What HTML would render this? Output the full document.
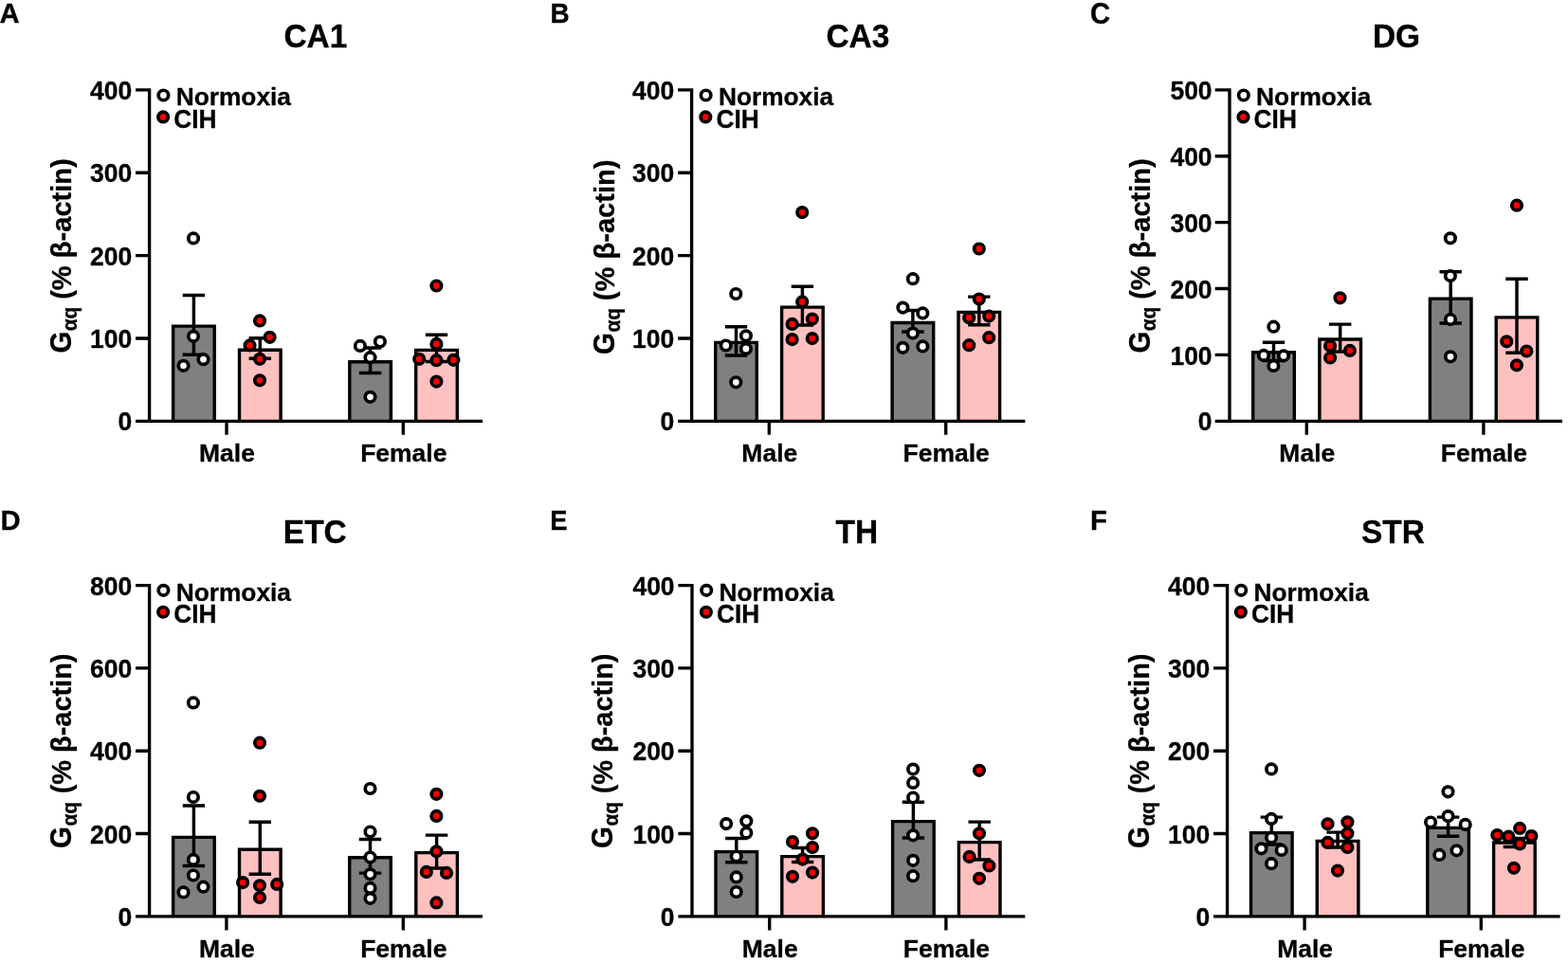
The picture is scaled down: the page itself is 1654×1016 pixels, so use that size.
<!DOCTYPE html>
<html lang="en">
<head>
<meta charset="utf-8">
<title>G&#945;q expression across brain regions</title>
<style>
html,body{margin:0;padding:0;background:#fff;}
body{width:1654px;height:1016px;overflow:hidden;}
svg{display:block;}
text{font-family:"Liberation Sans", Arial, Helvetica, sans-serif;font-weight:bold;fill:#000;stroke:#000;stroke-width:0.3px;stroke-linejoin:round;}
.pl{font-size:29.3px;}
.tt{font-size:33.5px;text-anchor:middle;}
.yt{font-size:26.5px;text-anchor:end;}
.xt{font-size:26.5px;text-anchor:middle;}
.lg{font-size:26.3px;}
.yl{font-size:29.5px;}
.ax{stroke:#000;stroke-width:3.35;fill:none;}
.eb{stroke:#000;stroke-width:3.45;fill:none;}
.bn{fill:#808080;stroke:#000;stroke-width:3.4;}
.bc{fill:#ffc0c0;stroke:#000;stroke-width:3.4;}
.dn{fill:#fff;stroke:#000;stroke-width:3.7;}
.dc{fill:#ff0000;stroke:#000;stroke-width:3.7;}
</style>
</head>
<body>
<svg width="1654" height="1016" viewBox="0 0 1654 1016">
<rect x="0" y="0" width="1654" height="1016" fill="#ffffff"/>

<g id="panel-A">
<text class="pl" transform="translate(-0.5 24) scale(1 1.03)">A</text>
<text class="tt" transform="translate(332.9 50) scale(1 1.03)">CA1</text>
<g transform="translate(74.6 372.6) rotate(-90)"><text class="yl" transform="translate(0 0) scale(1 1.07)">G<tspan x="23.3" y="5.61" font-size="21">&#945;q</tspan></text><text class="yl" transform="translate(56.75 0) scale(1 0.99)" style="font-size:29.1px">(% &#946;-actin)</text></g>
<path class="bn" d="M182.6 443.9V344.1H226.2V443.9"/>
<path class="bc" d="M252.5 443.9V369.3H296.1V443.9"/>
<path class="bn" d="M368.8 443.9V381.7H412.4V443.9"/>
<path class="bc" d="M438.7 443.9V369.4H482.3V443.9"/>
<path class="eb" d="M204.4 311.5V374.3M192.7 311.5H216.1M192.7 374.3H216.1"/>
<path class="eb" d="M274.3 356.8V378.2M262.6 356.8H286M262.6 378.2H286"/>
<path class="eb" d="M390.6 366.9V393.4M378.9 366.9H402.3M378.9 393.4H402.3"/>
<path class="eb" d="M460.5 353.3V381.4M448.8 353.3H472.2M448.8 381.4H472.2"/>
<circle class="dn" cx="204" cy="251.4" r="5.25"/>
<circle class="dn" cx="204" cy="354.8" r="5.25"/>
<circle class="dn" cx="214.5" cy="379.2" r="5.25"/>
<circle class="dn" cx="193.5" cy="385.8" r="5.25"/>
<circle class="dc" cx="274" cy="338.4" r="5.25"/>
<circle class="dc" cx="284.6" cy="355.8" r="5.25"/>
<circle class="dc" cx="263.5" cy="364.4" r="5.25"/>
<circle class="dc" cx="274" cy="378.8" r="5.25"/>
<circle class="dc" cx="274" cy="401.3" r="5.25"/>
<circle class="dn" cx="400.9" cy="360.5" r="5.25"/>
<circle class="dn" cx="379.9" cy="364.9" r="5.25"/>
<circle class="dn" cx="390.5" cy="377.2" r="5.25"/>
<circle class="dn" cx="390.5" cy="418.8" r="5.25"/>
<circle class="dc" cx="460.4" cy="301.5" r="5.25"/>
<circle class="dc" cx="460.4" cy="362.9" r="5.25"/>
<circle class="dc" cx="442.2" cy="378.8" r="5.25"/>
<circle class="dc" cx="460.4" cy="380.2" r="5.25"/>
<circle class="dc" cx="478.4" cy="379.8" r="5.25"/>
<circle class="dc" cx="460.4" cy="402.6" r="5.25"/>
<path class="ax" d="M157.6 93.23V444.3M143 444.3H509M143 356.95H157.6M143 269.6H157.6M143 182.25H157.6M143 94.9H157.6M239 444.3V458.75M425.3 444.3V458.75"/>
<text class="yt" transform="translate(139.2 454.4) scale(1 1.035)">0</text>
<text class="yt" transform="translate(139.2 367.05) scale(1 1.035)">100</text>
<text class="yt" transform="translate(139.2 279.7) scale(1 1.035)">200</text>
<text class="yt" transform="translate(139.2 192.35) scale(1 1.035)">300</text>
<text class="yt" transform="translate(139.2 105) scale(1 1.035)">400</text>
<text class="xt" transform="translate(239.5 487.2) scale(1 0.99)">Male</text>
<text class="xt" transform="translate(425.8 487.2) scale(1 0.99)">Female</text>
<circle class="dn" cx="172.4" cy="100.5" r="5.25"/>
<text class="lg" x="185.7" y="111.4">Normoxia</text>
<circle class="dc" cx="172.1" cy="123.45" r="5.25"/>
<text class="lg" transform="translate(183.2 134.6) scale(1 1.035)">CIH</text>
</g>
<g id="panel-B">
<text class="pl" transform="translate(580.5 24) scale(0.955 1.03)">B</text>
<text class="tt" transform="translate(904.9 50) scale(1 1.03)">CA3</text>
<g transform="translate(647.6 373.9) rotate(-90)"><text class="yl" transform="translate(0 0) scale(1 1.07)">G<tspan x="23.3" y="5.61" font-size="21">&#945;q</tspan></text><text class="yl" transform="translate(56.75 0) scale(1 0.99)" style="font-size:29.1px">(% &#946;-actin)</text></g>
<path class="bn" d="M754.7 443.9V361.4H798.3V443.9"/>
<path class="bc" d="M824.6 443.9V324.1H868.2V443.9"/>
<path class="bn" d="M941.1 443.9V340.5H984.7V443.9"/>
<path class="bc" d="M1011 443.9V329.4H1054.6V443.9"/>
<path class="eb" d="M776.5 344.7V374.9M764.8 344.7H788.2M764.8 374.9H788.2"/>
<path class="eb" d="M846.4 302.3V342.9M834.7 302.3H858.1M834.7 342.9H858.1"/>
<path class="eb" d="M962.9 327.4V349.9M951.2 327.4H974.6M951.2 349.9H974.6"/>
<path class="eb" d="M1032.8 313.1V342.8M1021.1 313.1H1044.5M1021.1 342.8H1044.5"/>
<circle class="dn" cx="776.3" cy="310" r="5.25"/>
<circle class="dn" cx="786.9" cy="354.3" r="5.25"/>
<circle class="dn" cx="765.7" cy="364.5" r="5.25"/>
<circle class="dn" cx="786.9" cy="367.9" r="5.25"/>
<circle class="dn" cx="776.3" cy="403.3" r="5.25"/>
<circle class="dc" cx="846.2" cy="224.1" r="5.25"/>
<circle class="dc" cx="846.2" cy="318.4" r="5.25"/>
<circle class="dc" cx="856.8" cy="336.6" r="5.25"/>
<circle class="dc" cx="835.6" cy="341.9" r="5.25"/>
<circle class="dc" cx="835.6" cy="358.1" r="5.25"/>
<circle class="dc" cx="856.8" cy="357.1" r="5.25"/>
<circle class="dn" cx="962.9" cy="294.2" r="5.25"/>
<circle class="dn" cx="952.4" cy="324.6" r="5.25"/>
<circle class="dn" cx="973.3" cy="330.4" r="5.25"/>
<circle class="dn" cx="962.9" cy="351.6" r="5.25"/>
<circle class="dn" cx="952.4" cy="366.8" r="5.25"/>
<circle class="dn" cx="973.3" cy="365.4" r="5.25"/>
<circle class="dc" cx="1032.8" cy="262.5" r="5.25"/>
<circle class="dc" cx="1032.8" cy="315.5" r="5.25"/>
<circle class="dc" cx="1022.2" cy="335.2" r="5.25"/>
<circle class="dc" cx="1043.2" cy="333.6" r="5.25"/>
<circle class="dc" cx="1043.2" cy="356.2" r="5.25"/>
<circle class="dc" cx="1022.2" cy="364.2" r="5.25"/>
<path class="ax" d="M729.6 93.23V444.3M715 444.3H1081.3M715 356.95H729.6M715 269.6H729.6M715 182.25H729.6M715 94.9H729.6M811.3 444.3V458.75M997.7 444.3V458.75"/>
<text class="yt" transform="translate(711.2 454.4) scale(1 1.035)">0</text>
<text class="yt" transform="translate(711.2 367.05) scale(1 1.035)">100</text>
<text class="yt" transform="translate(711.2 279.7) scale(1 1.035)">200</text>
<text class="yt" transform="translate(711.2 192.35) scale(1 1.035)">300</text>
<text class="yt" transform="translate(711.2 105) scale(1 1.035)">400</text>
<text class="xt" transform="translate(811.8 487.2) scale(1 0.99)">Male</text>
<text class="xt" transform="translate(998.2 487.2) scale(1 0.99)">Female</text>
<circle class="dn" cx="744.6" cy="100.5" r="5.25"/>
<text class="lg" x="757.9" y="111.4">Normoxia</text>
<circle class="dc" cx="744.3" cy="123.45" r="5.25"/>
<text class="lg" transform="translate(755.4 134.6) scale(1 1.035)">CIH</text>
</g>
<g id="panel-C">
<text class="pl" transform="translate(1150 24.5) scale(1 1.085)">C</text>
<text class="tt" transform="translate(1473 50) scale(1 1.03)">DG</text>
<g transform="translate(1212.5 372.6) rotate(-90)"><text class="yl" transform="translate(0 0) scale(1 1.07)">G<tspan x="23.3" y="5.61" font-size="21">&#945;q</tspan></text><text class="yl" transform="translate(56.75 0) scale(1 0.99)" style="font-size:29.1px">(% &#946;-actin)</text></g>
<path class="bn" d="M1321.7 443.9V371.8H1365.3V443.9"/>
<path class="bc" d="M1391.9 443.9V358H1435.5V443.9"/>
<path class="bn" d="M1508.4 443.9V315.1H1552V443.9"/>
<path class="bc" d="M1578.2 443.9V334.9H1621.8V443.9"/>
<path class="eb" d="M1343.5 361.3V380.5M1331.8 361.3H1355.2M1331.8 380.5H1355.2"/>
<path class="eb" d="M1413.7 342.1V370.9M1402 342.1H1425.4M1402 370.9H1425.4"/>
<path class="eb" d="M1530.2 286.7V341M1518.5 286.7H1541.9M1518.5 341H1541.9"/>
<path class="eb" d="M1600 294.3V372.3M1588.3 294.3H1611.7M1588.3 372.3H1611.7"/>
<circle class="dn" cx="1343.4" cy="344.7" r="5.25"/>
<circle class="dn" cx="1333" cy="374.9" r="5.25"/>
<circle class="dn" cx="1354" cy="375.3" r="5.25"/>
<circle class="dn" cx="1343.4" cy="385.9" r="5.25"/>
<circle class="dc" cx="1413.5" cy="314.3" r="5.25"/>
<circle class="dc" cx="1403.1" cy="364.9" r="5.25"/>
<circle class="dc" cx="1423.9" cy="369.9" r="5.25"/>
<circle class="dc" cx="1403.1" cy="377.5" r="5.25"/>
<circle class="dn" cx="1529.9" cy="251.3" r="5.25"/>
<circle class="dn" cx="1529.9" cy="291.1" r="5.25"/>
<circle class="dn" cx="1530" cy="337" r="5.25"/>
<circle class="dn" cx="1530" cy="376.3" r="5.25"/>
<circle class="dc" cx="1600" cy="216.7" r="5.25"/>
<circle class="dc" cx="1589.3" cy="360.3" r="5.25"/>
<circle class="dc" cx="1610.3" cy="370.5" r="5.25"/>
<circle class="dc" cx="1599.9" cy="385.3" r="5.25"/>
<path class="ax" d="M1297 93.23V444.3M1281.7 444.3H1648M1281.7 374.42H1297M1281.7 304.54H1297M1281.7 234.66H1297M1281.7 164.78H1297M1281.7 94.9H1297M1378.3 444.3V458.75M1564.9 444.3V458.75"/>
<text class="yt" transform="translate(1278.6 454.4) scale(1 1.035)">0</text>
<text class="yt" transform="translate(1278.6 384.52) scale(1 1.035)">100</text>
<text class="yt" transform="translate(1278.6 314.64) scale(1 1.035)">200</text>
<text class="yt" transform="translate(1278.6 244.76) scale(1 1.035)">300</text>
<text class="yt" transform="translate(1278.6 174.88) scale(1 1.035)">400</text>
<text class="yt" transform="translate(1278.6 105) scale(1 1.035)">500</text>
<text class="xt" transform="translate(1378.8 487.2) scale(1 0.99)">Male</text>
<text class="xt" transform="translate(1565.4 487.2) scale(1 0.99)">Female</text>
<circle class="dn" cx="1311.8" cy="100.5" r="5.25"/>
<text class="lg" x="1325.1" y="111.4">Normoxia</text>
<circle class="dc" cx="1311.5" cy="123.45" r="5.25"/>
<text class="lg" transform="translate(1322.6 134.6) scale(1 1.035)">CIH</text>
</g>
<g id="panel-D">
<text class="pl" transform="translate(0.6 558.7) scale(1 1.03)">D</text>
<text class="tt" transform="translate(332.3 572.5) scale(1 1.03)">ETC</text>
<g transform="translate(74.6 894.9) rotate(-90)"><text class="yl" transform="translate(0 0) scale(1 1.07)">G<tspan x="23.3" y="5.61" font-size="21">&#945;q</tspan></text><text class="yl" transform="translate(57.65 0) scale(1 0.99)" style="font-size:28.9px">(% &#946;-actin)</text></g>
<path class="bn" d="M182.6 966.4V883.4H226.2V966.4"/>
<path class="bc" d="M252.5 966.4V896.3H296.1V966.4"/>
<path class="bn" d="M368.7 966.4V904.8H412.3V966.4"/>
<path class="bc" d="M438.8 966.4V899.6H482.4V966.4"/>
<path class="eb" d="M204.4 849.9V913.5M192.7 849.9H216.1M192.7 913.5H216.1"/>
<path class="eb" d="M274.3 867.3V922.3M262.6 867.3H286M262.6 922.3H286"/>
<path class="eb" d="M390.5 885.5V921.1M378.8 885.5H402.2M378.8 921.1H402.2"/>
<path class="eb" d="M460.6 881.1V915.9M448.9 881.1H472.3M448.9 915.9H472.3"/>
<circle class="dn" cx="203.9" cy="741.4" r="5.25"/>
<circle class="dn" cx="203.9" cy="841" r="5.25"/>
<circle class="dn" cx="203.9" cy="906.9" r="5.25"/>
<circle class="dn" cx="203.9" cy="923.5" r="5.25"/>
<circle class="dn" cx="214.5" cy="935.7" r="5.25"/>
<circle class="dn" cx="193.5" cy="941.4" r="5.25"/>
<circle class="dc" cx="274" cy="783.7" r="5.25"/>
<circle class="dc" cx="274" cy="839.8" r="5.25"/>
<circle class="dc" cx="256.1" cy="931.1" r="5.25"/>
<circle class="dc" cx="274" cy="934.3" r="5.25"/>
<circle class="dc" cx="292.2" cy="932.9" r="5.25"/>
<circle class="dc" cx="274" cy="947" r="5.25"/>
<circle class="dn" cx="390.5" cy="832" r="5.25"/>
<circle class="dn" cx="390.5" cy="877.5" r="5.25"/>
<circle class="dn" cx="390.5" cy="904.5" r="5.25"/>
<circle class="dn" cx="390.5" cy="922.3" r="5.25"/>
<circle class="dn" cx="390.5" cy="936.9" r="5.25"/>
<circle class="dn" cx="390.5" cy="947.8" r="5.25"/>
<circle class="dc" cx="460.4" cy="837.8" r="5.25"/>
<circle class="dc" cx="460.4" cy="860.9" r="5.25"/>
<circle class="dc" cx="460.4" cy="898.3" r="5.25"/>
<circle class="dc" cx="449.8" cy="919.9" r="5.25"/>
<circle class="dc" cx="471" cy="920.9" r="5.25"/>
<circle class="dc" cx="460.4" cy="952.4" r="5.25"/>
<path class="ax" d="M157.6 615.98V966.8M143 966.8H509M143 879.51H157.6M143 792.22H157.6M143 704.94H157.6M143 617.65H157.6M238.9 966.8V981.6M425.3 966.8V981.6"/>
<text class="yt" transform="translate(139.2 976.9) scale(1 1.035)">0</text>
<text class="yt" transform="translate(139.2 889.61) scale(1 1.035)">200</text>
<text class="yt" transform="translate(139.2 802.32) scale(1 1.035)">400</text>
<text class="yt" transform="translate(139.2 715.04) scale(1 1.035)">600</text>
<text class="yt" transform="translate(139.2 627.75) scale(1 1.035)">800</text>
<text class="xt" transform="translate(239.4 1009.7) scale(1 0.99)">Male</text>
<text class="xt" transform="translate(425.8 1009.7) scale(1 0.99)">Female</text>
<circle class="dn" cx="172.4" cy="622.8" r="5.25"/>
<text class="lg" x="185.7" y="633.7">Normoxia</text>
<circle class="dc" cx="172.1" cy="645.75" r="5.25"/>
<text class="lg" transform="translate(183.2 656.9) scale(1 1.035)">CIH</text>
</g>
<g id="panel-E">
<text class="pl" transform="translate(580.2 558.7) scale(0.935 1.03)">E</text>
<text class="tt" transform="translate(903.8 572.5) scale(1 1.03)">TH</text>
<g transform="translate(645.5 894.9) rotate(-90)"><text class="yl" transform="translate(0 0) scale(1 1.07)">G<tspan x="23.3" y="5.61" font-size="21">&#945;q</tspan></text><text class="yl" transform="translate(57.65 0) scale(1 0.99)" style="font-size:28.9px">(% &#946;-actin)</text></g>
<path class="bn" d="M755 966.4V898.6H798.6V966.4"/>
<path class="bc" d="M824.8 966.4V903.6H868.4V966.4"/>
<path class="bn" d="M941.6 966.4V866.6H985.2V966.4"/>
<path class="bc" d="M1011.4 966.4V888.6H1055V966.4"/>
<path class="eb" d="M776.8 884.5V909.8M765.1 884.5H788.5M765.1 909.8H788.5"/>
<path class="eb" d="M846.6 894.5V909.4M834.9 894.5H858.3M834.9 909.4H858.3"/>
<path class="eb" d="M963.4 846.3V883.9M951.7 846.3H975.1M951.7 883.9H975.1"/>
<path class="eb" d="M1033.2 867.1V907M1021.5 867.1H1044.9M1021.5 907H1044.9"/>
<circle class="dn" cx="766.1" cy="869.1" r="5.25"/>
<circle class="dn" cx="787.3" cy="866.3" r="5.25"/>
<circle class="dn" cx="787.3" cy="878.7" r="5.25"/>
<circle class="dn" cx="776.7" cy="903.5" r="5.25"/>
<circle class="dn" cx="776.7" cy="925.4" r="5.25"/>
<circle class="dn" cx="776.7" cy="941" r="5.25"/>
<circle class="dc" cx="857" cy="879.3" r="5.25"/>
<circle class="dc" cx="836" cy="888.1" r="5.25"/>
<circle class="dc" cx="857" cy="894.1" r="5.25"/>
<circle class="dc" cx="846.6" cy="906.6" r="5.25"/>
<circle class="dc" cx="857" cy="920.6" r="5.25"/>
<circle class="dc" cx="836" cy="924.8" r="5.25"/>
<circle class="dn" cx="963.1" cy="811.6" r="5.25"/>
<circle class="dn" cx="963.1" cy="825.9" r="5.25"/>
<circle class="dn" cx="963.1" cy="841.5" r="5.25"/>
<circle class="dn" cx="963.1" cy="881.3" r="5.25"/>
<circle class="dn" cx="963.1" cy="907.8" r="5.25"/>
<circle class="dn" cx="963.1" cy="924.2" r="5.25"/>
<circle class="dc" cx="1033" cy="812.8" r="5.25"/>
<circle class="dc" cx="1033" cy="879.3" r="5.25"/>
<circle class="dc" cx="1022.6" cy="903.9" r="5.25"/>
<circle class="dc" cx="1043.4" cy="913.4" r="5.25"/>
<circle class="dc" cx="1033" cy="926.8" r="5.25"/>
<path class="ax" d="M730 615.98V966.8M715.4 966.8H1081.3M715.4 879.51H730M715.4 792.22H730M715.4 704.94H730M715.4 617.65H730M811.7 966.8V981.6M997.9 966.8V981.6"/>
<text class="yt" transform="translate(711.6 976.9) scale(1 1.035)">0</text>
<text class="yt" transform="translate(711.6 889.61) scale(1 1.035)">100</text>
<text class="yt" transform="translate(711.6 802.32) scale(1 1.035)">200</text>
<text class="yt" transform="translate(711.6 715.04) scale(1 1.035)">300</text>
<text class="yt" transform="translate(711.6 627.75) scale(1 1.035)">400</text>
<text class="xt" transform="translate(812.2 1009.7) scale(1 0.99)">Male</text>
<text class="xt" transform="translate(998.4 1009.7) scale(1 0.99)">Female</text>
<circle class="dn" cx="745.2" cy="622.8" r="5.25"/>
<text class="lg" x="758.5" y="633.7">Normoxia</text>
<circle class="dc" cx="744.9" cy="645.75" r="5.25"/>
<text class="lg" transform="translate(756 656.9) scale(1 1.035)">CIH</text>
</g>
<g id="panel-F">
<text class="pl" transform="translate(1150 558.7) scale(1 1.03)">F</text>
<text class="tt" transform="translate(1469.5 572.5) scale(1 1.03)">STR</text>
<g transform="translate(1211.5 894.9) rotate(-90)"><text class="yl" transform="translate(0 0) scale(1 1.07)">G<tspan x="23.3" y="5.61" font-size="21">&#945;q</tspan></text><text class="yl" transform="translate(57.65 0) scale(1 0.99)" style="font-size:28.9px">(% &#946;-actin)</text></g>
<path class="bn" d="M1319.5 966.4V878.6H1363.1V966.4"/>
<path class="bc" d="M1389.3 966.4V887.4H1432.9V966.4"/>
<path class="bn" d="M1505.8 966.4V873.4H1549.4V966.4"/>
<path class="bc" d="M1575.6 966.4V889H1619.2V966.4"/>
<path class="eb" d="M1341.3 862.1V890.9M1329.6 862.1H1353M1329.6 890.9H1353"/>
<path class="eb" d="M1411.1 878.1V893.9M1399.4 878.1H1422.8M1399.4 893.9H1422.8"/>
<path class="eb" d="M1527.6 862.1V882.3M1515.9 862.1H1539.3M1515.9 882.3H1539.3"/>
<path class="eb" d="M1597.4 884.5V893.5M1585.7 884.5H1609.1M1585.7 893.5H1609.1"/>
<circle class="dn" cx="1341.1" cy="811.4" r="5.25"/>
<circle class="dn" cx="1341.1" cy="863.9" r="5.25"/>
<circle class="dn" cx="1341.1" cy="883.7" r="5.25"/>
<circle class="dn" cx="1330.5" cy="895.3" r="5.25"/>
<circle class="dn" cx="1351.7" cy="896.9" r="5.25"/>
<circle class="dn" cx="1341.1" cy="911.2" r="5.25"/>
<circle class="dc" cx="1400.5" cy="869.3" r="5.25"/>
<circle class="dc" cx="1421.4" cy="867.3" r="5.25"/>
<circle class="dc" cx="1421.4" cy="879.3" r="5.25"/>
<circle class="dc" cx="1400.5" cy="888.9" r="5.25"/>
<circle class="dc" cx="1421.4" cy="893.9" r="5.25"/>
<circle class="dc" cx="1411" cy="918.6" r="5.25"/>
<circle class="dn" cx="1527.5" cy="835.3" r="5.25"/>
<circle class="dn" cx="1527.5" cy="861.1" r="5.25"/>
<circle class="dn" cx="1509.1" cy="867.5" r="5.25"/>
<circle class="dn" cx="1545.7" cy="869.9" r="5.25"/>
<circle class="dn" cx="1536.5" cy="897.3" r="5.25"/>
<circle class="dn" cx="1518.3" cy="901.9" r="5.25"/>
<circle class="dc" cx="1603.1" cy="873.9" r="5.25"/>
<circle class="dc" cx="1579.3" cy="881.1" r="5.25"/>
<circle class="dc" cx="1591.3" cy="882.7" r="5.25"/>
<circle class="dc" cx="1615.4" cy="882.1" r="5.25"/>
<circle class="dc" cx="1603.1" cy="890.5" r="5.25"/>
<circle class="dc" cx="1596.9" cy="915.8" r="5.25"/>
<path class="ax" d="M1294.6 615.98V966.8M1280 966.8H1645.6M1280 879.51H1294.6M1280 792.22H1294.6M1280 704.94H1294.6M1280 617.65H1294.6M1376.1 966.8V981.6M1562.3 966.8V981.6"/>
<text class="yt" transform="translate(1276.2 976.9) scale(1 1.035)">0</text>
<text class="yt" transform="translate(1276.2 889.61) scale(1 1.035)">100</text>
<text class="yt" transform="translate(1276.2 802.32) scale(1 1.035)">200</text>
<text class="yt" transform="translate(1276.2 715.04) scale(1 1.035)">300</text>
<text class="yt" transform="translate(1276.2 627.75) scale(1 1.035)">400</text>
<text class="xt" transform="translate(1376.6 1009.7) scale(1 0.99)">Male</text>
<text class="xt" transform="translate(1562.8 1009.7) scale(1 0.99)">Female</text>
<circle class="dn" cx="1309.2" cy="622.8" r="5.25"/>
<text class="lg" x="1322.5" y="633.7">Normoxia</text>
<circle class="dc" cx="1308.9" cy="645.75" r="5.25"/>
<text class="lg" transform="translate(1320 656.9) scale(1 1.035)">CIH</text>
</g>
</svg>
</body>
</html>
